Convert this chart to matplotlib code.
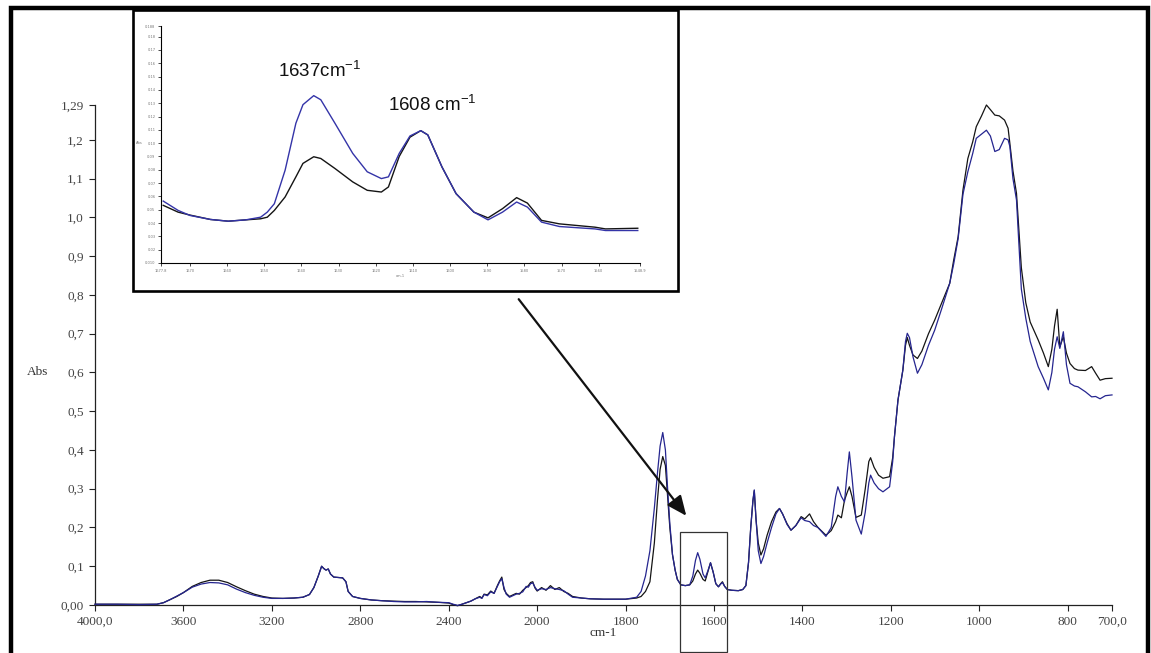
import numpy as np
import matplotlib
matplotlib.use("Agg")
import matplotlib.pyplot as plt
from matplotlib.patches import Rectangle, FancyArrowPatch
from matplotlib.lines import Line2D

plt.rcParams['mathtext.default'] = 'regular'

# ---------------- main spectrum data ----------------
wavenumber = [4000, 3900, 3800, 3720, 3690, 3660, 3630, 3600, 3560, 3520, 3480, 3440, 3400, 3360, 3320,
              3280, 3240, 3200, 3150, 3100, 3060, 3030, 3010, 2990, 2975, 2965, 2955, 2945, 2935, 2920,
              2900, 2880, 2865, 2855, 2835, 2800, 2750, 2700, 2650, 2600, 2550, 2500, 2450, 2400, 2380,
              2360, 2340, 2320, 2300, 2280, 2260, 2250, 2240, 2225, 2210, 2195, 2180, 2170, 2160, 2150,
              2140, 2125, 2110, 2095, 2080, 2065, 2050, 2040, 2030, 2020, 2010, 2000, 1990, 1980, 1970,
              1960, 1950, 1940, 1930, 1920, 1900, 1880, 1850, 1800, 1775, 1765, 1755, 1745, 1735, 1728,
              1722, 1716, 1710, 1705, 1700, 1694, 1688, 1683, 1675, 1665, 1655, 1648, 1642, 1637, 1632,
              1625, 1620, 1614, 1608, 1602, 1596, 1590, 1585, 1581, 1576, 1570, 1560, 1545, 1535, 1528,
              1522, 1517, 1512, 1509, 1505, 1500, 1494, 1488, 1480, 1470, 1460, 1452, 1445, 1435, 1426,
              1415, 1403, 1395, 1384, 1375, 1365, 1347, 1335, 1325, 1320, 1312, 1305, 1299, 1294, 1288,
              1279, 1267, 1258, 1250, 1246, 1238, 1228, 1218, 1203, 1196, 1192, 1184, 1173, 1167, 1163,
              1158, 1150, 1140, 1130, 1115, 1101, 1085, 1067, 1058, 1048, 1037, 1026, 1015, 1007, 995,
              984, 975, 965, 955, 943, 935, 931, 924, 916, 905, 895, 885, 867, 855, 844,
              836, 830, 824, 818, 810, 803, 795, 785, 777, 760, 746, 737, 727, 715, 700]

abs_black = [0.002, 0.002, 0.002, 0.002, 0.006, 0.014, 0.022, 0.032, 0.048, 0.058, 0.064, 0.064, 0.058, 0.047, 0.037,
             0.028, 0.022, 0.018, 0.017, 0.018, 0.020, 0.027, 0.045, 0.075, 0.100, 0.094, 0.090, 0.093, 0.080, 0.072,
             0.071, 0.070, 0.060, 0.035, 0.022, 0.017, 0.013, 0.011, 0.010, 0.009, 0.009, 0.008, 0.007, 0.005, 0.001,
             -0.002, 0.002, 0.006, 0.010, 0.016, 0.022, 0.018, 0.028, 0.026, 0.036, 0.030, 0.050, 0.062, 0.072, 0.040,
             0.030, 0.022, 0.026, 0.030, 0.028, 0.038, 0.045, 0.050, 0.058, 0.060, 0.044, 0.036, 0.045, 0.038, 0.050,
             0.040, 0.045, 0.035, 0.030, 0.022, 0.018, 0.016, 0.015, 0.015, 0.018, 0.022, 0.035, 0.060, 0.160, 0.270,
             0.350, 0.383, 0.360, 0.280, 0.200, 0.130, 0.090, 0.066, 0.052, 0.050, 0.052, 0.062, 0.080, 0.090, 0.082,
             0.066, 0.062, 0.085, 0.109, 0.085, 0.055, 0.047, 0.055, 0.060, 0.048, 0.040, 0.038, 0.037, 0.040, 0.050,
             0.110, 0.200, 0.270, 0.295, 0.220, 0.160, 0.129, 0.145, 0.180, 0.215, 0.240, 0.249, 0.235, 0.210, 0.193,
             0.205, 0.228, 0.222, 0.235, 0.215, 0.200, 0.180, 0.192, 0.215, 0.232, 0.225, 0.270, 0.290, 0.305, 0.280,
             0.226, 0.232, 0.300, 0.370, 0.380, 0.355, 0.335, 0.327, 0.331, 0.380, 0.434, 0.529, 0.606, 0.670, 0.690,
             0.670, 0.645, 0.636, 0.655, 0.700, 0.735, 0.780, 0.830, 0.890, 0.950, 1.071, 1.152, 1.195, 1.234, 1.262,
             1.290, 1.278, 1.264, 1.262, 1.251, 1.230, 1.191, 1.120, 1.062, 0.870, 0.780, 0.730, 0.684, 0.650, 0.615,
             0.660, 0.720, 0.763, 0.666, 0.692, 0.650, 0.623, 0.610, 0.606, 0.605, 0.615, 0.598, 0.580, 0.584, 0.585]

abs_blue = [0.002, 0.002, 0.001, 0.002, 0.006, 0.014, 0.023, 0.032, 0.046, 0.054, 0.058, 0.057, 0.052, 0.041, 0.032,
            0.025, 0.020, 0.017, 0.017, 0.018, 0.020, 0.027, 0.045, 0.075, 0.100, 0.094, 0.090, 0.093, 0.080, 0.072,
            0.071, 0.070, 0.060, 0.035, 0.022, 0.017, 0.013, 0.011, 0.009, 0.008, 0.008, 0.009, 0.007, 0.006, 0.002,
            -0.001, 0.002, 0.006, 0.010, 0.016, 0.020, 0.017, 0.027, 0.024, 0.034, 0.030, 0.048, 0.060, 0.068, 0.045,
            0.028, 0.020, 0.024, 0.028, 0.030, 0.034, 0.048, 0.046, 0.055, 0.057, 0.046, 0.038, 0.042, 0.040, 0.045,
            0.042, 0.040, 0.037, 0.028, 0.020, 0.018, 0.016, 0.015, 0.015, 0.020, 0.035, 0.075, 0.140, 0.250, 0.340,
            0.410, 0.445, 0.400, 0.300, 0.210, 0.130, 0.090, 0.066, 0.052, 0.050, 0.052, 0.075, 0.115, 0.135, 0.118,
            0.080, 0.070, 0.088, 0.109, 0.085, 0.055, 0.047, 0.054, 0.058, 0.048, 0.040, 0.038, 0.037, 0.040, 0.050,
            0.110, 0.200, 0.270, 0.297, 0.220, 0.140, 0.107, 0.125, 0.160, 0.200, 0.235, 0.249, 0.235, 0.208, 0.193,
            0.205, 0.225, 0.218, 0.215, 0.205, 0.200, 0.177, 0.200, 0.280, 0.305, 0.280, 0.266, 0.340, 0.395, 0.330,
            0.219, 0.183, 0.240, 0.315, 0.335, 0.315, 0.300, 0.292, 0.305, 0.370, 0.434, 0.529, 0.606, 0.680, 0.701,
            0.690, 0.640, 0.598, 0.620, 0.670, 0.709, 0.765, 0.830, 0.880, 0.945, 1.060, 1.118, 1.165, 1.204, 1.215,
            1.225, 1.210, 1.170, 1.175, 1.204, 1.200, 1.183, 1.100, 1.045, 0.815, 0.740, 0.680, 0.615, 0.585, 0.555,
            0.600, 0.660, 0.692, 0.662, 0.705, 0.620, 0.572, 0.565, 0.563, 0.550, 0.537, 0.538, 0.532, 0.540, 0.542]

x_ticks = [4000, 3600, 3200, 2800, 2400, 2000, 1800, 1600, 1400, 1200, 1000, 800, 700]
x_tick_labels = ['4000,0', '3600', '3200', '2800', '2400', '2000', '1800', '1600', '1400', '1200', '1000', '800', '700,0']
y_ticks = [0.0, 0.1, 0.2, 0.3, 0.4, 0.5, 0.6, 0.7, 0.8, 0.9, 1.0, 1.1, 1.2, 1.29]
y_tick_labels = ['0,00', '0,1', '0,2', '0,3', '0,4', '0,5', '0,6', '0,7', '0,8', '0,9', '1,0', '1,1', '1,2', '1,29']

# ---------------- inset (zoom 1677.8 - 1548.9 cm-1) ----------------
inset_wn = [1677.2, 1673.2, 1670.0, 1664.5, 1659.7, 1655.0, 1651.0, 1649.2, 1647.3, 1644.4, 1641.5, 1639.6,
            1636.7, 1634.8, 1631.0, 1626.2, 1622.3, 1618.5, 1616.6, 1613.7, 1610.8, 1607.9, 1606.0, 1602.2,
            1598.4, 1593.6, 1589.8, 1585.9, 1582.1, 1579.2, 1575.4, 1570.6, 1561.0, 1558.2, 1549.5]
inset_black = [0.0533, 0.0482, 0.0460, 0.0427, 0.0414, 0.0424, 0.0432, 0.0444, 0.0495, 0.0596, 0.0747, 0.0848,
               0.0898, 0.0885, 0.0810, 0.0709, 0.0646, 0.0633, 0.0671, 0.0900, 0.1045, 0.1094, 0.1062, 0.0822,
               0.0621, 0.0482, 0.0439, 0.0508, 0.0591, 0.0550, 0.0420, 0.0394, 0.0369, 0.0356, 0.0361]
inset_blue = [0.0565, 0.0495, 0.0457, 0.0427, 0.0414, 0.0424, 0.0444, 0.0482, 0.0545, 0.0797, 0.1150, 0.1289,
              0.1357, 0.1326, 0.1150, 0.0923, 0.0785, 0.0734, 0.0747, 0.0923, 0.1054, 0.1094, 0.1062, 0.0822,
              0.0621, 0.0482, 0.0424, 0.0482, 0.0558, 0.0520, 0.0407, 0.0374, 0.0356, 0.0344, 0.0344]
inset_x_ticks = [1677.8, 1670, 1660, 1650, 1640, 1630, 1620, 1610, 1600, 1590, 1580, 1570, 1560, 1548.9]
inset_x_labels = ['1677.8', '1670', '1660', '1650', '1640', '1630', '1620', '1610', '1600', '1590', '1580',
                  '1570', '1560', '1548.9']
inset_y_ticks = [0.010, 0.02, 0.03, 0.04, 0.05, 0.06, 0.07, 0.08, 0.09, 0.10, 0.11, 0.12, 0.13, 0.14,
                 0.15, 0.16, 0.17, 0.18, 0.188]
inset_y_labels = ['0.010', '0.02', '0.03', '0.04', '0.05', '0.06', '0.07', '0.08', '0.09', '0.10', '0.11',
                  '0.12', '0.13', '0.14', '0.15', '0.16', '0.17', '0.18', '0.188']

peak_labels = ['1637cm$^{-1}$', '1608 cm$^{-1}$']
peak_pos = [(1646.3, 0.154), (1616.8, 0.129)]

BLACK = '#141414'
BLUE = '#25258f'
BLUE_IN = '#3434a8'

W, H = 1151, 653
fig = plt.figure(figsize=(W / 100, H / 100), dpi=100)
fig.patch.set_facecolor('white')


def px(x, y):
    """pixel (from top-left) -> figure fraction"""
    return x / W, 1 - y / H


def fwd(x):
    x = np.asarray(x, dtype=float)
    return np.where(x >= 2000, 5 + (x - 2000) / 400.0, 5 + (x - 2000) / 200.0)


def inv(u):
    u = np.asarray(u, dtype=float)
    return np.where(u >= 5, 2000 + (u - 5) * 400.0, 2000 + (u - 5) * 200.0)


# main axes: x 95..1112 px, y 605..105 px
l, b = px(95, 605)
r, t = px(1112, 105)
ax = fig.add_axes([l, b, r - l, t - b])
ax.set_xscale('function', functions=(fwd, inv))
ax.plot(wavenumber, abs_black, color=BLACK, lw=0.9, clip_on=False, zorder=3)
ax.plot(wavenumber, abs_blue, color=BLUE, lw=0.9, clip_on=False, zorder=4)
ax.set_xlim(4000, 700)
ax.set_ylim(0, 1.29)
for s in ['top', 'right']:
    ax.spines[s].set_visible(False)
for s in ['left', 'bottom']:
    ax.spines[s].set_color('#222222')
    ax.spines[s].set_linewidth(0.9)
ax.set_xticks(x_ticks)
ax.set_xticklabels(x_tick_labels)
ax.xaxis.set_minor_locator(matplotlib.ticker.NullLocator())
ax.set_yticks(y_ticks)
ax.set_yticklabels(y_tick_labels)
ax.tick_params(axis='both', direction='out', length=4, width=0.8, color='#222222',
               labelsize=9.5, labelcolor='#444444', pad=4)
for lab in ax.get_xticklabels() + ax.get_yticklabels():
    lab.set_fontfamily('Liberation Serif')
ax.set_facecolor('none')

fig.text(*px(38, 372), 'Abs', ha='center', va='center', fontsize=9.5, color='#333333',
         family='Liberation Serif')
fig.text(*px(603, 633), 'cm-1', ha='center', va='center', fontsize=9.5, color='#333333',
         family='Liberation Serif')

# zoom box on the main plot
ax.add_patch(Rectangle((1677.8, -0.121), 1570 - 1677.8, 0.188 + 0.121, fill=False,
                       edgecolor='#333333', lw=0.9, clip_on=False, zorder=5))

# outer thick frame (bottom edge is cut by the image)
x0, _ = px(10.5, 0)
x1, _ = px(1147.5, 0)
_, y1 = px(0, 8)
fig.add_artist(Line2D([x0, x0, x1, x1], [-0.05, y1, y1, -0.05], transform=fig.transFigure,
                      color='black', lw=3.2, solid_joinstyle='miter'))

# inset box
bx0, by0 = px(133, 291)
bx1, by1 = px(678, 10)
fig.add_artist(Rectangle((bx0, by0), bx1 - bx0, by1 - by0, transform=fig.transFigure,
                         facecolor='white', edgecolor='black', lw=1.9, zorder=10))

# inset axes
il, ib = px(161, 263)
ir, it = px(640, 26)
iax = fig.add_axes([il, ib, ir - il, it - ib], zorder=11)
iax.set_facecolor('none')
iax.plot(inset_wn, inset_black, color=BLACK, lw=1.0)
iax.plot(inset_wn, inset_blue, color=BLUE_IN, lw=1.0)
iax.set_xlim(1677.8, 1548.9)
iax.set_ylim(0.010, 0.188)
for s in ['top', 'right']:
    iax.spines[s].set_visible(False)
for s in ['left', 'bottom']:
    iax.spines[s].set_linewidth(0.8)
iax.set_xticks(inset_x_ticks)
iax.set_xticklabels(inset_x_labels)
iax.set_yticks(inset_y_ticks)
iax.set_yticklabels(inset_y_labels)
iax.tick_params(axis='both', direction='out', length=2, width=0.5, labelsize=2.6,
                labelcolor='#777777', pad=2)
iax.set_xlabel('cm-1', fontsize=2.6, color='#777777', labelpad=1)
iax.set_ylabel('Abs', fontsize=2.6, color='#777777', rotation=0, labelpad=4)
for txt, (xx, yy) in zip(peak_labels, peak_pos):
    iax.text(xx, yy, txt, fontsize=13.5, family='Liberation Sans', color='#111111',
             ha='left', va='center')

# arrow from inset to the zoom box
ax0 = px(517, 297)
ax1 = px(688, 518)
fig.add_artist(FancyArrowPatch(ax0, ax1, transform=fig.transFigure,
                               arrowstyle='-|>,head_length=0.8,head_width=0.35',
                               mutation_scale=15, color='#111111', lw=1.6, zorder=12))

fig.savefig('out.png', dpi=100, facecolor='white')
